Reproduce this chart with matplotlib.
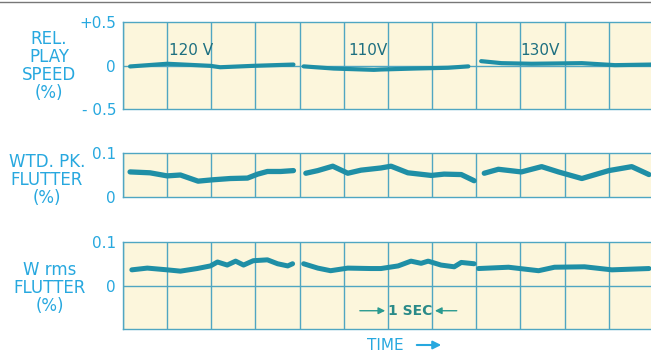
import matplotlib
matplotlib.use("Agg")
import matplotlib.pyplot as plt
import numpy as np

# ---------------- data (time in seconds = grid divisions) ----------------
speed_t1 = [0.16, 1.0, 1.98, 2.2, 2.95, 3.86]
speed_v1 = [-0.011, 0.02, -0.004, -0.02, -0.004, 0.011]
speed_t2 = [4.09, 4.77, 5.68, 5.84, 6.59, 7.36, 7.82]
speed_v2 = [-0.01, -0.035, -0.05, -0.046, -0.035, -0.026, -0.01]
speed_t3 = [8.11, 8.57, 9.25, 10.39, 11.14, 11.98]
speed_v3 = [0.05, 0.027, 0.02, 0.027, 0.004, 0.011]

pk_t1 = [0.16, 0.61, 1.0, 1.3, 1.7, 2.02, 2.43, 2.82, 3.05, 3.27, 3.57, 3.86]
pk_v1 = [0.057, 0.055, 0.048, 0.05, 0.036, 0.039, 0.042, 0.043, 0.052, 0.058, 0.058, 0.06]
pk_t2 = [4.14, 4.41, 4.75, 5.09, 5.39, 5.84, 6.07, 6.45, 6.98, 7.27, 7.66, 7.95]
pk_v2 = [0.054, 0.06, 0.07, 0.054, 0.061, 0.066, 0.07, 0.055, 0.049, 0.052, 0.051, 0.037]
pk_t3 = [8.18, 8.5, 9.02, 9.48, 9.86, 10.39, 11.0, 11.52, 11.91]
pk_v3 = [0.054, 0.063, 0.057, 0.069, 0.057, 0.042, 0.06, 0.069, 0.051]

rms_t1 = [0.2, 0.55, 1.0, 1.3, 1.68, 1.98, 2.14, 2.36, 2.55, 2.73, 2.95, 3.27, 3.5, 3.73, 3.84]
rms_v1 = [0.036, 0.04, 0.036, 0.033, 0.039, 0.045, 0.054, 0.047, 0.056, 0.047, 0.057, 0.059, 0.05, 0.045, 0.05]
rms_t2 = [4.09, 4.41, 4.7, 5.09, 5.61, 5.84, 6.23, 6.52, 6.75, 6.91, 7.2, 7.5, 7.66, 7.95]
rms_v2 = [0.05, 0.04, 0.034, 0.04, 0.039, 0.039, 0.045, 0.056, 0.051, 0.056, 0.047, 0.043, 0.053, 0.05]
rms_t3 = [8.05, 8.73, 9.41, 9.77, 10.45, 11.07, 11.91]
rms_v3 = [0.039, 0.042, 0.034, 0.042, 0.043, 0.036, 0.039]

voltage_labels = ["120 V", "110V", "130V"]
voltage_x = [1.05, 5.1, 9.0]

panel_titles = ["REL.\nPLAY\nSPEED\n(%)", "WTD. PK.\nFLUTTER\n(%)", "W rms\nFLUTTER\n(%)"]

# ---------------- style ----------------
BG = "#fcf6dc"
GRID = "#4fa6c2"
TRACE = "#1f8fa6"
LABEL = "#27a8df"
DARK = "#1d6f80"

W, H = 651, 352
fig = plt.figure(figsize=(W / 100, H / 100), dpi=100)
fig.patch.set_facecolor("white")

def fx(px):
    return px / W

def fy(py):
    return 1 - py / H

left = fx(123)
width = fx(651) - left + 0.003

ax1 = fig.add_axes([left, fy(109), width, fy(22) - fy(109)])
ax2 = fig.add_axes([left, fy(197), width, fy(153) - fy(197)])
ax3 = fig.add_axes([left, fy(329), width, fy(242) - fy(329)])

def style(ax, ylim, yticks, ylabels, hlines):
    ax.set_facecolor(BG)
    ax.set_xlim(0, 12)
    ax.set_ylim(*ylim)
    ax.set_xticks(np.arange(0, 13, 1))
    ax.tick_params(axis="x", length=0, labelbottom=False)
    ax.set_yticks(yticks)
    ax.set_yticklabels(ylabels)
    ax.tick_params(axis="y", length=0, pad=5, labelcolor=LABEL, labelsize=11)
    ax.grid(axis="x", color=GRID, linewidth=1.0)
    for h in hlines:
        ax.axhline(h, color=GRID, linewidth=1.0, zorder=1)
    for s in ax.spines.values():
        s.set_color(GRID)
        s.set_linewidth(1.0)
    ax.spines["right"].set_visible(False)

style(ax1, (-0.5, 0.5), [-0.5, 0, 0.5], ["- 0.5", "0", "+0.5"], [0])
style(ax2, (0, 0.1), [0, 0.1], ["0", "0.1"], [])
style(ax3, (-0.1, 0.1), [0, 0.1], ["0", "0.1"], [0])

for t, v in [(speed_t1, speed_v1), (speed_t2, speed_v2), (speed_t3, speed_v3)]:
    ax1.plot(t, v, color=TRACE, lw=3.0, solid_capstyle="round", solid_joinstyle="round", zorder=3)
for t, v in [(pk_t1, pk_v1), (pk_t2, pk_v2), (pk_t3, pk_v3)]:
    ax2.plot(t, v, color=TRACE, lw=3.8, solid_capstyle="round", solid_joinstyle="round", zorder=3)
for t, v in [(rms_t1, rms_v1), (rms_t2, rms_v2), (rms_t3, rms_v3)]:
    ax3.plot(t, v, color=TRACE, lw=3.6, solid_capstyle="round", solid_joinstyle="round", zorder=3)

for lab, x in zip(voltage_labels, voltage_x):
    ax1.text(x, 0.17, lab, color=DARK, fontsize=11, ha="left", va="center", zorder=4)

# 1 SEC marker
ax3.text(6.5, -0.058, "1 SEC", color="#2a8a88", fontsize=10, fontweight="bold",
         ha="center", va="center", zorder=4)
ax3.annotate("", xy=(6.0, -0.058), xytext=(5.3, -0.058),
             arrowprops=dict(arrowstyle="-|>", color="#2a9a90", lw=1.0, mutation_scale=10))
ax3.annotate("", xy=(7.0, -0.058), xytext=(7.62, -0.058),
             arrowprops=dict(arrowstyle="-|>", color="#2a9a90", lw=1.0, mutation_scale=10))

# left titles
fig.text(fx(49), fy(66), panel_titles[0], color=LABEL, fontsize=12, ha="center",
         va="center", linespacing=1.0)
fig.text(fx(47), fy(180), panel_titles[1], color=LABEL, fontsize=12, ha="center",
         va="center", linespacing=1.0)
fig.text(fx(50), fy(288), panel_titles[2], color=LABEL, fontsize=12, ha="center",
         va="center", linespacing=1.0)

# TIME arrow
fig.text(fx(367), fy(345), "TIME", color=LABEL, fontsize=11, ha="left", va="center")
fig.patches.append(matplotlib.patches.FancyArrowPatch(
    (fx(414), fy(345)), (fx(444), fy(345)), transform=fig.transFigure,
    arrowstyle="-|>", mutation_scale=12, color=LABEL, lw=1.5))

# scan line at top
fig.add_artist(matplotlib.lines.Line2D([0, 1], [fy(2), fy(2)], color="#777777", lw=1.0))

fig.savefig("out.png", dpi=100, facecolor="white")
